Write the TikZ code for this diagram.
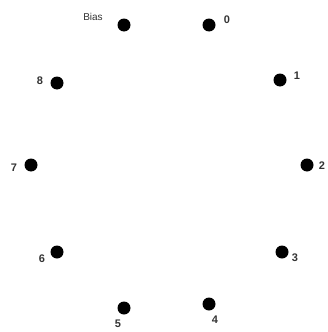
\documentclass[tikz,border=0pt]{standalone}
\usepackage{fontspec}
\setmainfont{Liberation Sans}
\usetikzlibrary{positioning}
\tikzset{
  unitdot/.style={circle, fill=black, inner sep=0pt, minimum size=13pt},
  unitlabel/.style={font=\fontsize{11}{13}\selectfont\bfseries, inner sep=0pt, text=black!80}
}

\begin{document}
\begin{tikzpicture}[x=1pt, y=-1pt]
      \useasboundingbox (0,0) rectangle (327,332);
      % units on the ring
      \node[unitdot] (bias) at (124,25) {};
      \node[unitdot] (u0) at (209,25) {};
      \node[unitdot] (u1) at (280,80) {};
      \node[unitdot] (u2) at (307,165) {};
      \node[unitdot] (u3) at (282,252) {};
      \node[unitdot] (u4) at (209,304) {};
      \node[unitdot] (u5) at (124,308) {};
      \node[unitdot] (u6) at (57,252) {};
      \node[unitdot] (u7) at (31,165) {};
      \node[unitdot] (u8) at (57,83) {};
      % labels
      \node[unitlabel, font=\fontsize{10}{12}\selectfont] (lbias) at (93,17) {Bias};
      \node[unitlabel] (l0) at (227,20) {0};
      \node[unitlabel] (l1) at (297,76) {1};
      \node[unitlabel] (l2) at (322,166) {2};
      \node[unitlabel] (l3) at (295,258) {3};
      \node[unitlabel] (l4) at (215,320) {4};
      \node[unitlabel] (l5) at (118,324) {5};
      \node[unitlabel] (l6) at (42,259) {6};
      \node[unitlabel] (l7) at (14,168) {7};
      \node[unitlabel] (l8) at (40,81) {8};
    \end{tikzpicture}
\end{document}
